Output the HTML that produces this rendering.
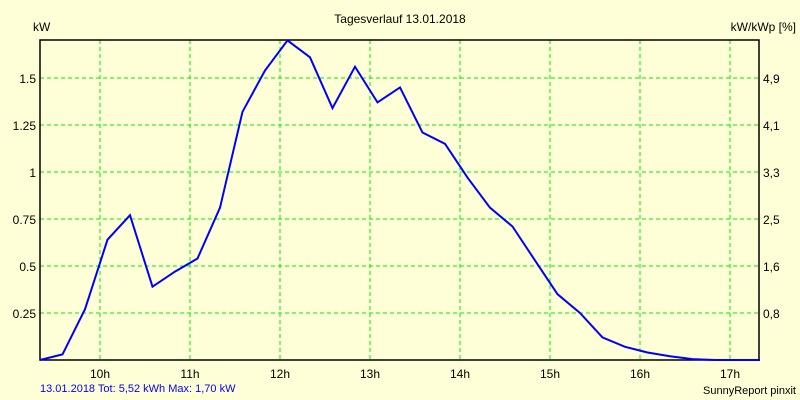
<!DOCTYPE html>
<html><head><meta charset="utf-8"><style>
body{margin:0;background:#ffffd7;}
svg{display:block;font-family:"Liberation Sans",sans-serif;font-size:12px;}
</style></head><body>
<svg id="c" width="800" height="400">
<rect width="800" height="400" fill="#ffffd7"/>
<text x="400" y="23" text-anchor="middle">Tagesverlauf 13.01.2018</text>
<text x="33" y="31">kW</text>
<text x="796" y="31" text-anchor="end">kW/kWp [%]</text>
<g id="grid"></g>
<rect x="40" y="40" width="719" height="320" fill="none" stroke="#000" stroke-width="1.5"/>
<g id="labels"></g>
<path id="line" fill="none" stroke="#0000ff" stroke-width="2"/>
<text x="40" y="392" fill="#0000ff" font-size="11">13.01.2018 Tot: 5,52 kWh Max: 1,70 kW</text>
<text x="796" y="394" text-anchor="end" font-size="11">SunnyReport pinxit</text>
</svg>
<script>
const hourTicks=[10,11,12,13,14,15,16,17];
const leftTicks=[0.25,0.5,0.75,1,1.25,1.5];
const leftLabels=["0.25","0.5","0.75","1","1.25","1.5"];
const rightLabels=["0,8","1,6","2,5","3,3","4,1","4,9"];
const startHour=9.3333;
const stepHour=0.25;
const power=[0,0.03,0.27,0.64,0.77,0.39,0.47,0.54,0.81,1.32,1.54,1.70,1.61,1.34,1.56,1.37,1.45,1.21,1.15,0.97,0.81,0.71,0.53,0.35,0.25,0.12,0.07,0.04,0.02,0.005,0,0,0];
const X=h=>40+(h-9.3333)*90;
const Y=v=>360-v*188;
const ns="http://www.w3.org/2000/svg";
const g=document.getElementById('grid'),L=document.getElementById('labels');
function mk(t,a,p){const e=document.createElementNS(ns,t);for(const k in a)e.setAttribute(k,a[k]);p.appendChild(e);return e;}
hourTicks.forEach(h=>{
 const l=mk('line',{x1:X(h),x2:X(h),y1:40,y2:360,stroke:'#00ee00','stroke-dasharray':'4,3'},g);
 
 
 const t=mk('text',{x:X(h),y:378,'text-anchor':'middle'},L);t.textContent=h+'h';
 
 
});
leftTicks.forEach((v,i)=>{
 const l=mk('line',{x1:40,x2:759,y1:Y(v),y2:Y(v),stroke:'#00ee00','stroke-dasharray':'4,3'},g);
 
 
 const t=mk('text',{x:36,y:Y(v)+5,'text-anchor':'end'},L);t.textContent=leftLabels[i];
 
 
 const r=mk('text',{x:763,y:Y(v)+5},L);r.textContent=rightLabels[i];
 
 
});
document.getElementById('line').setAttribute('d',power.map((v,i)=>(i?'L':'M')+X(startHour+i*stepHour).toFixed(1)+','+Y(v).toFixed(1)).join(''));
</script>
</body></html>
